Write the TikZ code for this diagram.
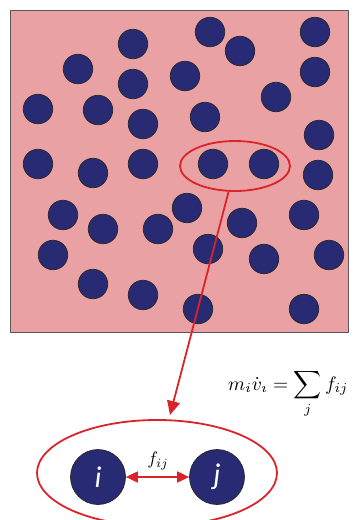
\documentclass[tikz,border=0pt]{standalone}
\usepackage{graphicx}
\usepackage{fontspec}
\newfontfamily\carlito{Carlito}
\usetikzlibrary{arrows.meta,shapes.geometric}
\definecolor{pinkbg}{RGB}{233,161,163}
\definecolor{navy}{RGB}{40,42,115}
\definecolor{redline}{RGB}{218,36,42}
\begin{document}
\begin{tikzpicture}[x=1pt,y=-1pt,
  particle/.style={circle,draw=black!85,fill=navy,line width=0.7pt,minimum size=29.5pt,inner sep=0pt},
  bigparticle/.style={particle,minimum size=55pt,text=white,font=\carlito\itshape\fontsize{30}{30}\selectfont},
  boxstyle/.style={draw=black!65,fill=pinkbg,line width=1pt,inner sep=0pt,minimum width=338pt,minimum height=322pt},
  redring/.style={ellipse,draw=redline,line width=1.8pt,inner sep=0pt},
  redarrow/.style={draw=redline,line width=1.8pt}
]
\useasboundingbox (0,0) rectangle (359,520);
\node[boxstyle] (box) at (179,171) {};
\foreach \x/\y [count=\n] in {133/44,78/69,133/84,185/76,38/109,98/110,143/124,38/164,93/173,143/164,
  210/32,240/51,315/32,315/72,276/97,205/117,319/135,213/164,264/164,318/175,
  63/215,103/229,158/229,187/208,53/255,93/284,143/295,242/223,304/215,208/249,
  264/259,329/255,198/309,304/309}
  \node[particle] (p\n) at (\x,\y) {};
\node[redring,minimum width=110pt,minimum height=50pt] (sel) at (235,166) {};
\coordinate (tip) at (170,415);
\draw[redarrow,-{Triangle[length=14pt,width=13pt]}] (sel.256) -- (tip);
\node[redring,minimum width=240pt,minimum height=106pt] (big) at (157,473) {};
\node[bigparticle] (pi) at (98,477) {i};
\node[bigparticle] (pj) at (217,477) {j};
\draw[redarrow,{Triangle[length=12pt,width=11pt]}-{Triangle[length=12pt,width=11pt]}] (pi) -- (pj);
\node[inner sep=0pt] (flab) at (158,461) {\scalebox{1.8}{$f_{ij}$}};
\node[anchor=base west,inner sep=0pt] (eq) at (228,390) {\scalebox{1.95}{$\displaystyle m_i\dot{v}_{\imath} = \sum_j f_{ij}$}};
\end{tikzpicture}
\end{document}
